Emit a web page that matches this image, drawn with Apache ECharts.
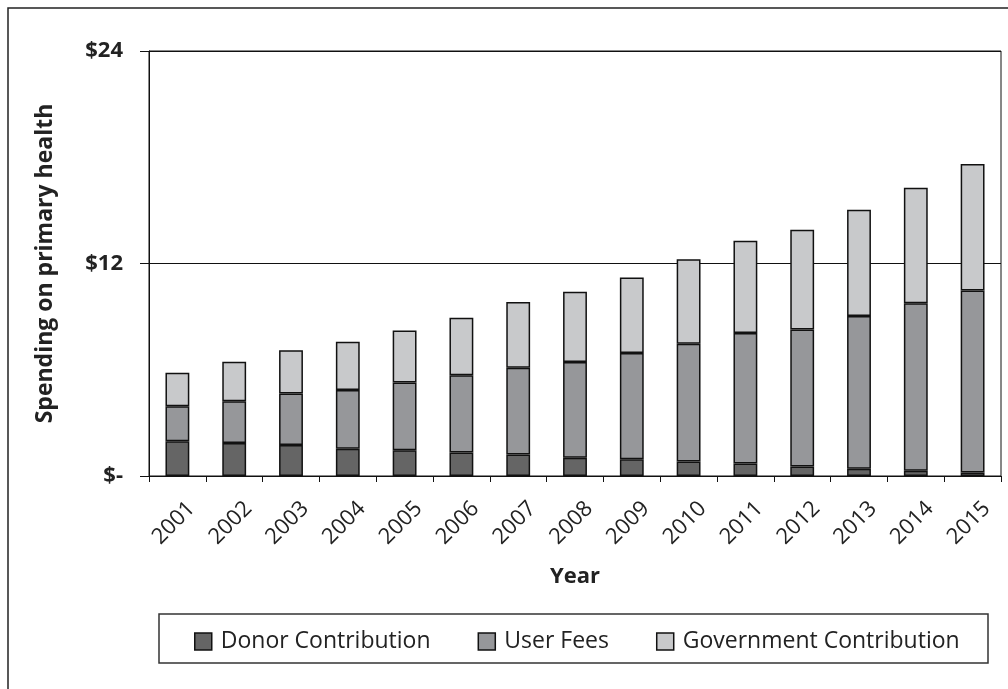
<!DOCTYPE html>
<html>
<head>
<meta charset="utf-8">
<script src="https://cdn.jsdelivr.net/npm/echarts@6/dist/echarts.min.js"></script>
<style>html,body{margin:0;padding:0;background:#fff;}#c{width:1008px;height:689px;}</style>
</head>
<body>
<div id="c"></div>
<script>
const years = ['2001','2002','2003','2004','2005','2006','2007','2008','2009','2010','2011','2012','2013','2014','2015'];
const donorContribution = [1.96,1.86,1.75,1.54,1.46,1.33,1.22,1.03,0.94,0.82,0.71,0.53,0.41,0.30,0.20];
const userFees = [1.98,2.36,2.91,3.32,3.82,4.36,4.90,5.41,6.01,6.65,7.36,7.75,8.62,9.45,10.28];
const governmentContribution = [1.89,2.23,2.44,2.72,2.93,3.25,3.70,3.96,4.26,4.77,5.21,5.62,6.01,6.53,7.14];
const yTicks = [0, 12, 24];

const FONT = '"Open Sans", sans-serif';
const chart = echarts.init(document.getElementById('c'), null, {renderer:'canvas'});
const barStyle = (c) => ({color: c, borderColor: '#111', borderWidth: 1.5});
chart.setOption({
  animation: false,
  backgroundColor: '#fff',
  textStyle: {fontFamily: FONT, color: '#222'},
  graphic: [
    {type:'rect', shape:{x:8, y:8, width:1200, height:900}, style:{fill:'none', stroke:'#222', lineWidth:1.5}, silent:true},
    {type:'rect', shape:{x:159, y:614, width:829, height:49}, style:{fill:'none', stroke:'#333', lineWidth:1.5}, silent:true}
  ],
  grid: {left:149, right:7, top:51, bottom:213, show:true, borderColor:'#111', borderWidth:1, backgroundColor:'transparent'},
  legend: {
    left: 189, top: 625,
    icon: 'rect',
    itemWidth: 17, itemHeight: 17, itemGap: 47,
    itemStyle: {borderColor:'#111', borderWidth:1.5},
    textStyle: {fontFamily: FONT, fontSize: 23, color: '#222', padding:[0,0,0,4]},
    data: ['Donor Contribution','User Fees','Government Contribution']
  },
  xAxis: {
    type: 'category', data: years,
    axisLine: {lineStyle:{color:'#111', width:1}},
    axisTick: {show:true, interval:0, length:6, alignWithLabel:false, lineStyle:{color:'#111'}},
    axisLabel: {rotate:45, fontSize:22, margin:15, color:'#222', fontFamily: FONT, interval:0,
      verticalAlign:'top', padding:[9,0,0,0]},
    name: 'Year', nameLocation:'middle', nameGap: 90,
    nameTextStyle: {fontSize:22, fontWeight:'bold', color:'#222', fontFamily: FONT}
  },
  yAxis: {
    type: 'value', min: yTicks[0], max: yTicks[2], interval: yTicks[1]-yTicks[0],
    axisLine: {show:true, lineStyle:{color:'#111', width:1}},
    axisTick: {show:true, length:9, lineStyle:{color:'#111'}},
    splitLine: {show:true, lineStyle:{color:'#111', width:1}},
    axisLabel: {fontSize:22, fontWeight:'bold', margin:26, color:'#222', fontFamily: FONT,
      formatter: v => v === 0 ? '$-' : '$' + v},
    name: 'Spending on primary health', nameLocation:'middle', nameGap: 92,
    nameTextStyle: {fontSize:23, fontWeight:'bold', color:'#222', fontFamily: FONT}
  },
  series: [
    {name:'Donor Contribution', type:'bar', stack:'s', data: donorContribution, barWidth:'42%', itemStyle: barStyle('#656565')},
    {name:'User Fees', type:'bar', stack:'s', data: userFees, barWidth:'42%', itemStyle: barStyle('#96979a')},
    {name:'Government Contribution', type:'bar', stack:'s', data: governmentContribution, barWidth:'42%', itemStyle: barStyle('#c8c9cb')}
  ]
});
</script>
</body>
</html>
